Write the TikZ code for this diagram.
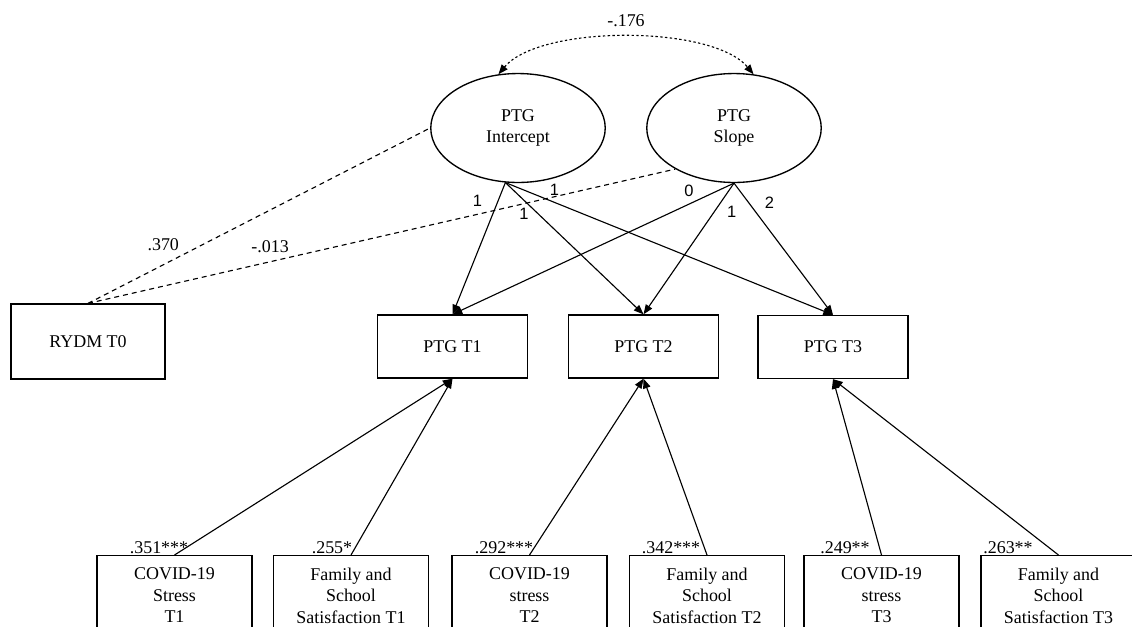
\documentclass[tikz,border=0pt]{standalone}
\usepackage{fontspec}
\setmainfont{Liberation Serif}
\newfontfamily\loadfont{Liberation Sans}
\usetikzlibrary{arrows.meta,shapes.geometric}
\newcommand{\boxlines}[1]{\parbox[t][2.4cm][t]{3.64cm}{\centering #1}}
\tikzset{
  latent/.style={ellipse,draw,line width=0.9pt,minimum width=4.1cm,minimum height=2.56cm,inner sep=0pt,align=center},
  obs/.style={rectangle,draw,line width=0.9pt,minimum width=3.53cm,minimum height=1.48cm},
  covar/.style={rectangle,draw,line width=0.9pt,anchor=north,inner xsep=0pt,inner ysep=8pt},
  regpath/.style={-{Triangle[length=6.5pt,width=5pt]},line width=0.75pt},
  corr/.style={dashed,dash pattern=on 3.3pt off 2.7pt,line width=0.75pt},
  covpath/.style={{Triangle[length=6.5pt,width=5pt]}-{Triangle[length=6.5pt,width=5pt]},dash pattern=on 1.6pt off 1.6pt,line width=0.75pt},
  loading/.style={font=\loadfont\fontsize{11}{13}\selectfont},
  coef/.style={inner sep=1pt}
}

\begin{document}
\begin{tikzpicture}[x=0.0235cm,y=-0.0235cm,font=\fontsize{12}{14.5}\selectfont]
  \useasboundingbox (0,0) rectangle (1132,626);
  \clip (0,0) rectangle (1132,626);
  % growth factors
  \node[latent] (int) at (518,128) {PTG\\Intercept};
  \node[latent] (slo) at (734,128) {PTG\\Slope};
  \draw[covpath] (int.110) to[out=50,in=130,looseness=0.65] node[above=3pt] (lcov) {-.176} (slo.70);
  % repeated measures
  \node[obs,minimum width=3.62cm,minimum height=1.76cm] (ryd) at (88,341.5) {RYDM T0};
  \node[obs] (t1) at (452.5,346.5) {PTG T1};
  \node[obs] (t2) at (643.5,346.5) {PTG T2};
  \node[obs] (t3) at (833,347) {PTG T3};
  \draw[corr] (ryd.north) -- node[pos=0.22,above=6pt] (lint) {.370} (int.west);
  \draw[corr] (ryd.north) -- node[pos=0.31,above=2.5pt] (lslo) {-.013} (slo.215);
  % loadings
  \draw[regpath] (int.257) -- node[loading,pos=0.14,left=7pt] (la) {1} (t1.north);
  \draw[regpath] (int.257) -- node[loading,pos=0.24,left=3pt] (lb) {1} (t2.north);
  \draw[regpath] (int.257) -- node[loading,pos=0.15,above=1pt] (lc) {1} (t3.north);
  \draw[regpath] (slo.south) -- node[loading,pos=0.16,above=1pt] (ld) {0} (t1.north);
  \draw[regpath] (slo.south) -- node[loading,pos=0.22,right=5pt] (le) {1} (t2.north);
  \draw[regpath] (slo.south) -- node[loading,pos=0.15,right=7pt] (lf) {2} (t3.north);
  % time-varying covariates
  \foreach \n/\x/\lines/\dst/\coef/\cx in {
      s1/174.5/{COVID-19\\Stress\\T1}/t1/.351***/159,
      s2/351/{Family and\\School\\Satisfaction T1}/t1/.255*/332,
      s3/529.5/{COVID-19\\stress\\T2}/t2/.292***/504,
      s4/707/{Family and\\School\\Satisfaction T2}/t2/.342***/671,
      s5/881.5/{COVID-19\\stress\\T3}/t3/.249**/845,
      s6/1058.5/{Family and\\School\\Satisfaction T3}/t3/.263**/1008} {
    \node[covar] (\n) at (\x,555) {\boxlines{\lines}};
    \draw[regpath] (\n.north) -- (\dst.south);
    \node[coef] (c\n) at (\cx,548) {\coef};
  }
\end{tikzpicture}
\end{document}
